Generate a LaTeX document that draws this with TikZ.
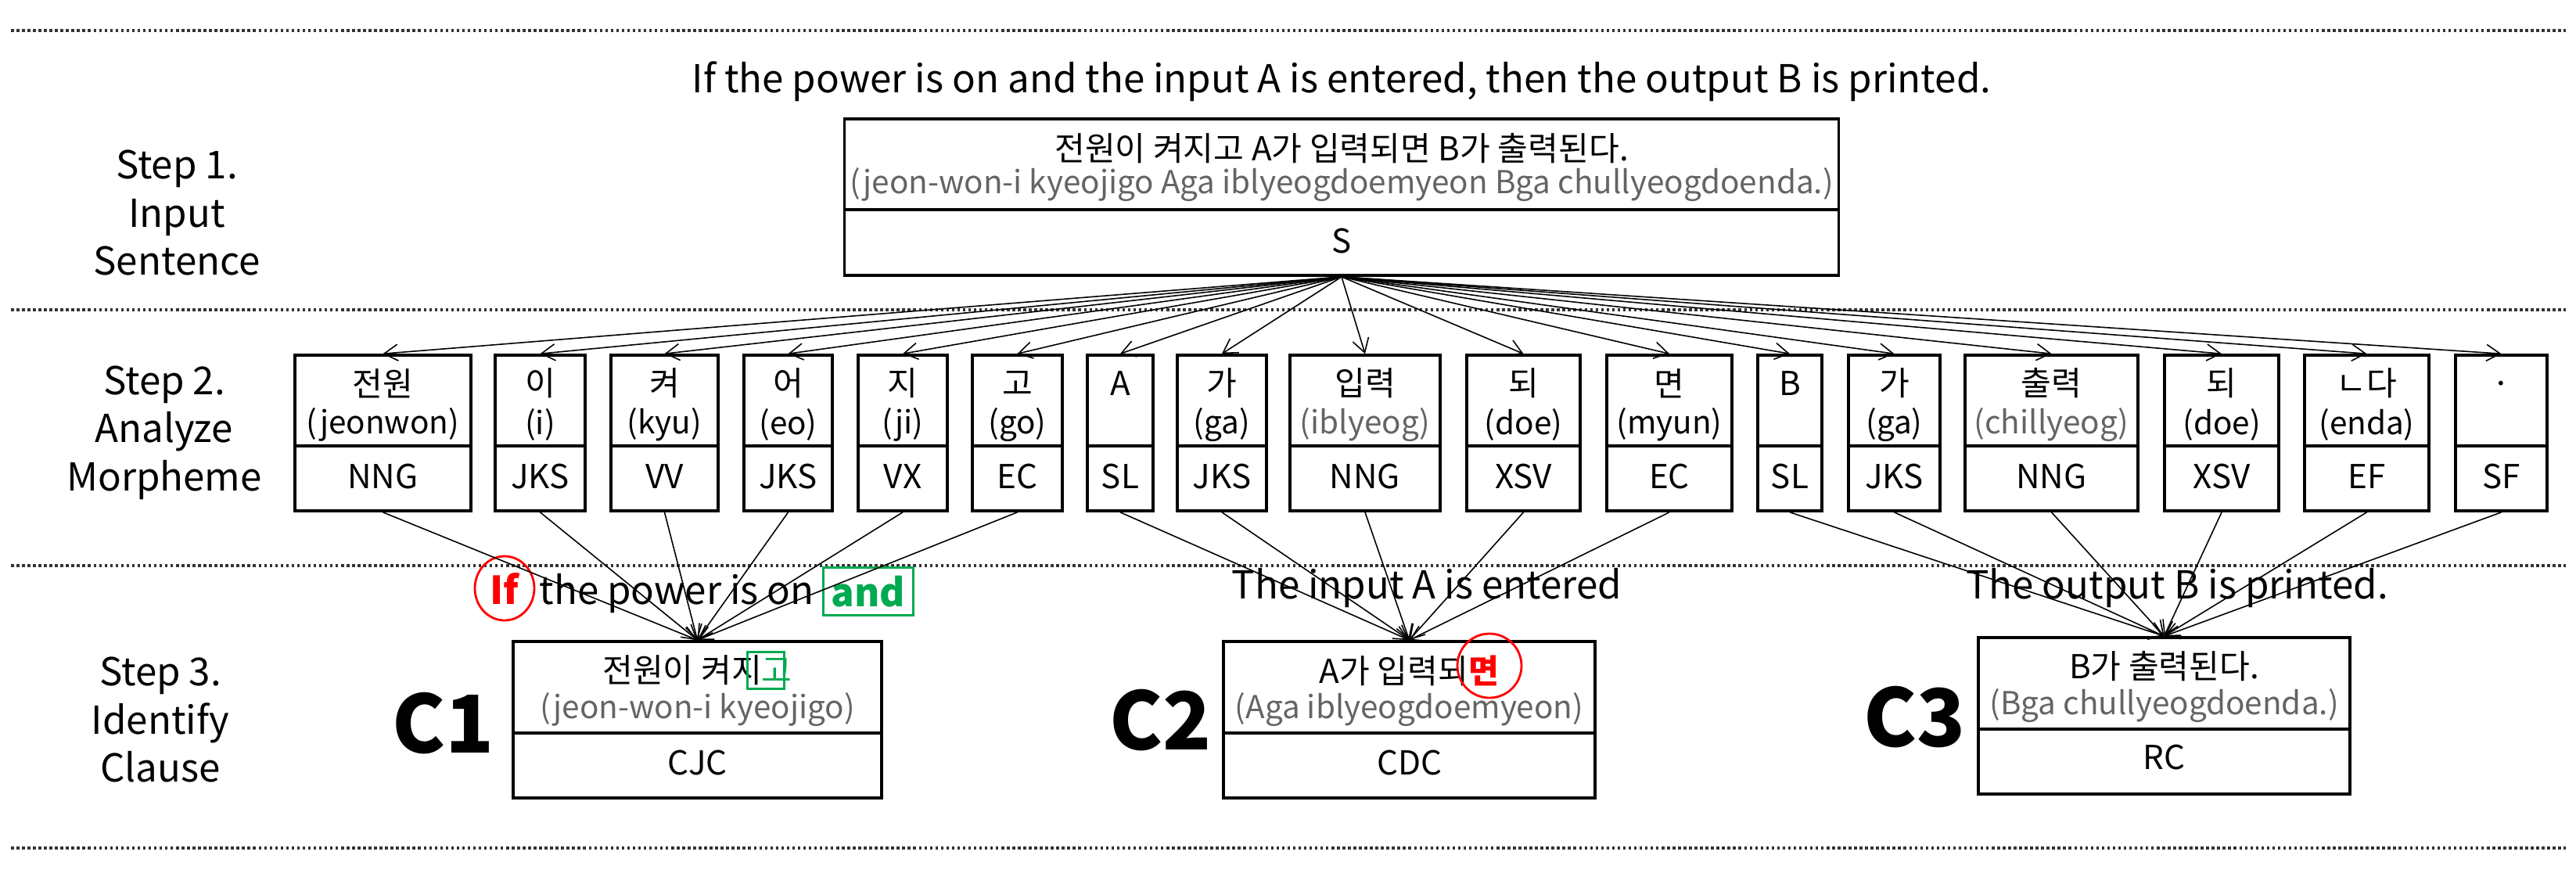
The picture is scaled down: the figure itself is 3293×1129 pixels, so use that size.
\documentclass[tikz,border=0pt]{standalone}
\usepackage{fontspec}
\setmainfont{Noto Sans CJK KR}
\usetikzlibrary{arrows.meta}
\definecolor{romgray}{RGB}{100,100,100}
\definecolor{grn}{RGB}{0,170,80}
\tikzset{
  sep/.style={densely dotted, line width=1pt, black!80},
  boxframe/.style={draw, line width=1pt, inner sep=0pt},
  arr/.style={line width=0.45pt, -{Straight Barb[length=5pt,width=6pt]}},
  txt/.style={font=\fontsize{12}{14}\selectfont, inner sep=0pt},
  rom/.style={font=\fontsize{11.5}{14}\selectfont, inner sep=0pt},
  steplab/.style={font=\fontsize{14}{17.5}\selectfont, align=center, inner sep=0pt},
  big/.style={font=\fontsize{29}{30}\selectfont\bfseries, inner sep=0pt},
}
\newcommand\mbx[7]{%
  \node[boxframe, minimum width={(#3-#2)*0.01cm}, minimum height=1.99cm] (#1) at ({(#2+#3)/2}, 553.5) {};
  \draw[line width=1pt] (#2,570) -- (#3,570);
  \node[txt] (#1k) at ({(#2+#3)/2}, 490) {#4};
  \node[rom, text=#7] (#1r) at ({(#2+#3)/2}, 543) {#5};
  \node[txt] (#1p) at ({(#2+#3)/2}, 609) {#6};
}
\begin{document}
\begin{tikzpicture}[x=0.01cm, y=-0.01cm]
\useasboundingbox (0,0) rectangle (3293,1129);
% separators
\draw[sep] (14,39) -- (3280,39);
\draw[sep] (14,396) -- (3280,396);
\draw[sep] (14,723) -- (3280,723);
\draw[sep] (14,1084) -- (3280,1084);
% step labels
\node[steplab] (st1) at (226,272) {Step 1.\\Input\\Sentence};
\node[steplab] (st2) at (210,553) {Step 2.\\Analyze\\Morpheme};
\node[steplab] (st3) at (205,920) {Step 3.\\Identify\\Clause};
% step 1
\node[font=\fontsize{14}{17}\selectfont, inner sep=0pt] (eng) at (1715,104) {If the power is on and the input A is entered, then the output B is printed.};
\node[boxframe, minimum width=12.7cm, minimum height=2.0cm] (S) at (1715,252) {};
\draw[line width=1pt] (1080,268) -- (2350,268);
\node[txt] (Sk) at (1715,190) {전원이 켜지고 A가 입력되면 B가 출력된다.};
\node[rom, text=romgray] (Sr) at (1715,236) {(jeon-won-i kyeojigo Aga iblyeogdoemyeon Bga chullyeogdoenda.)};
\node[txt] (Sp) at (1715,308) {S};
% step 2
\mbx{m1}{377}{602}{전원}{(jeonwon)}{NNG}{black}
\mbx{m2}{633}{748}{이}{(i)}{JKS}{black}
\mbx{m3}{781}{918}{켜}{(kyu)}{VV}{black}
\mbx{m4}{951}{1064}{어}{(eo)}{JKS}{black}
\mbx{m5}{1097}{1211}{지}{(ji)}{VX}{black}
\mbx{m6}{1243}{1358}{고}{(go)}{EC}{black}
\mbx{m7}{1390}{1474}{A}{}{SL}{black}
\mbx{m8}{1505}{1619}{가}{(ga)}{JKS}{black}
\mbx{m9}{1649}{1841}{입력}{(iblyeog)}{NNG}{romgray}
\mbx{m10}{1875}{2020}{되}{(doe)}{XSV}{black}
\mbx{m11}{2054}{2214}{면}{(myun)}{EC}{black}
\mbx{m12}{2247}{2329}{B}{}{SL}{black}
\mbx{m13}{2363}{2480}{가}{(ga)}{JKS}{black}
\mbx{m14}{2512}{2733}{출력}{(chillyeog)}{NNG}{romgray}
\mbx{m15}{2767}{2913}{되}{(doe)}{XSV}{black}
\mbx{m16}{2946}{3105}{ㄴ다}{(enda)}{EF}{black}
\mbx{m17}{3139}{3256}{.}{}{SF}{black}
\foreach \i in {1,...,17} {\draw[arr] (S.south) -- (m\i.north);}
% step 3 boxes
\node[boxframe, minimum width=4.71cm, minimum height=2.0cm] (c1) at (891.5,920) {};
\draw[line width=1pt] (656,937) -- (1127,937);
\node[txt] (c1k) at (891.5,857) {전원이 켜지\textcolor{grn}{고}};
\node[draw=grn, line width=0.8pt, minimum width=0.47cm, minimum height=0.47cm, inner sep=0pt] (gobox) at (979,857) {};
\node[rom, text=romgray] (c1r) at (891.5,907) {(jeon-won-i kyeojigo)};
\node[txt] (c1p) at (891.5,975) {CJC};
\node[big] (C1) at (567,925) {C1};

\node[boxframe, minimum width=4.75cm, minimum height=2.0cm] (c2) at (1801.5,920) {};
\draw[line width=1pt] (1564,937) -- (2039,937);
\node[txt] (c2k) at (1801.5,857) {A가 입력되\textcolor{red}{\bfseries 면}};
\draw[red, line width=0.8pt] (1904,851) ellipse [x radius=41, y radius=41];
\node[rom, text=romgray] (c2r) at (1801.5,907) {(Aga iblyeogdoemyeon)};
\node[txt] (c2p) at (1801.5,975) {CDC};
\node[big] (C2) at (1484,921) {C2};

\node[boxframe, minimum width=4.75cm, minimum height=2.0cm] (c3) at (2766.5,915) {};
\draw[line width=1pt] (2529,932) -- (3004,932);
\node[txt] (c3k) at (2766.5,852) {B가 출력된다.};
\node[rom, text=romgray] (c3r) at (2766.5,902) {(Bga chullyeogdoenda.)};
\node[txt] (c3p) at (2766.5,968) {RC};
\node[big] (C3) at (2448,917) {C3};

% clause sentences
\node[font=\fontsize{14}{17}\selectfont, inner sep=0pt, anchor=base west] (cl1) at (689,772) {the power is on};
\node[font=\fontsize{14}{17}\selectfont\bfseries, text=red, inner sep=0pt, anchor=base] (if) at (645,772) {If};
\draw[red, line width=0.8pt] (645,752) ellipse [x radius=38, y radius=41];
\node[font=\fontsize{14}{17}\selectfont\bfseries, text=grn, draw=grn, line width=0.8pt, inner sep=3pt] (and) at (1110,756) {and};
\node[font=\fontsize{14}{17}\selectfont, inner sep=0pt] (cl2) at (1824,752) {The input A is entered};
\node[font=\fontsize{14}{17}\selectfont, inner sep=0pt] (cl3) at (2783,752) {The output B is printed.};
% clause arrows
\foreach \i in {1,...,6} {\draw[arr] (m\i.south) -- (c1.north);}
\foreach \i in {7,...,11} {\draw[arr] (m\i.south) -- (c2.north);}
\foreach \i in {12,...,17} {\draw[arr] (m\i.south) -- (c3.north);}
\end{tikzpicture}
\end{document}
